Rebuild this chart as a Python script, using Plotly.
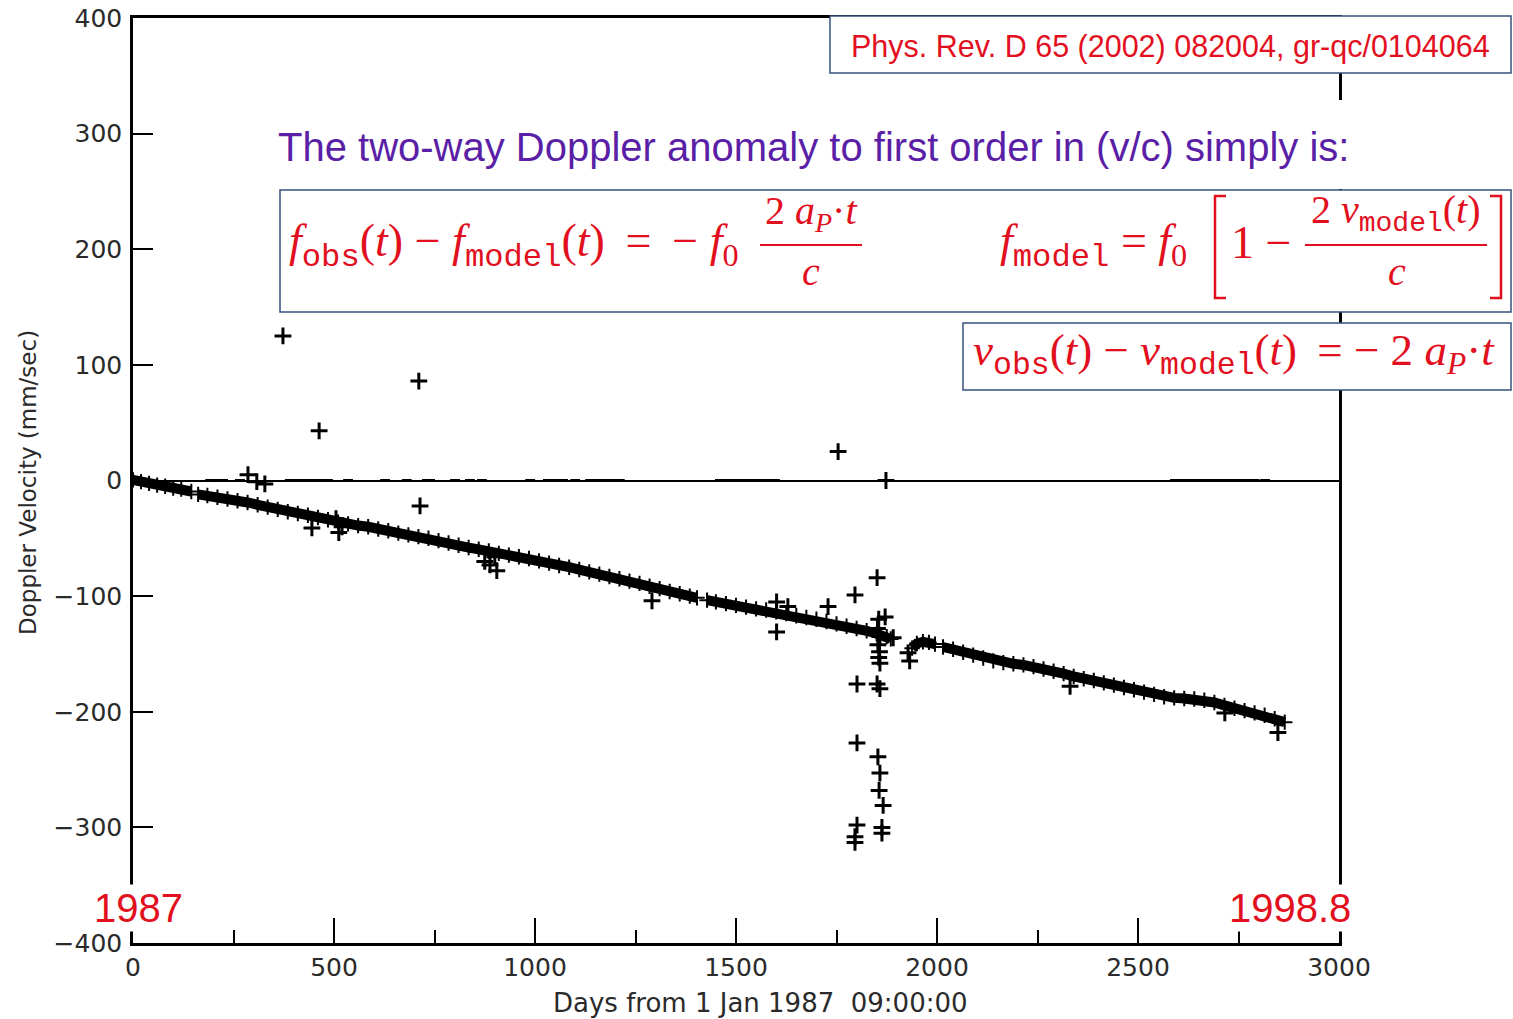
import plotly.graph_objects as go

# ---------------- data ----------------
band_days = [0, 20, 40, 60, 80, 100, 120, 145, None,
             162, 185, 210, 235, 260, 285, 310, 335, 360, 385, 410, 435, 460, 485, 510, 535, 560, 585,
             610, 635, 660, 685, 710, 735, 760, 785, 810, 835, 860, 885, 910, 935, 960, 985, 1010,
             1035, 1060, 1085, 1110, 1135, 1160, 1185, 1210, 1235, 1260, 1285, 1310, 1335, 1360,
             1385, 1403, None,
             1428, 1450, 1475, 1500, 1525, 1550, 1575, 1600, 1625, 1650, 1675, 1700, 1725, 1750,
             1775, 1800, 1825, 1850, 1875, 1885, None,
             1938, 1950, 1965, 1980, 1995, None,
             2015, 2040, 2065, 2090, 2115, 2140, 2165, 2190, 2215, 2240, 2265, 2290, 2315, 2340,
             2365, 2390, 2415, 2440, 2465, 2490, 2515, 2540, 2565, 2590, 2615, 2640, 2665, 2690,
             2715, 2740, 2765, 2790, 2815, 2840, 2865]
band_vel = [0.5, -1, -2.5, -4, -5, -6.5, -7.5, -9.5, None,
            -12, -13, -14.5, -16, -17.5, -19, -21, -23, -25, -27, -28.5, -30, -32, -34, -36, -37.5, -39, -40,
            -42, -43.5, -45.5, -47, -48.5, -50, -52, -54, -56, -58, -59.5, -61, -63, -64.5, -66, -67.5, -69.5,
            -71.5, -73.5, -75, -77, -79, -81, -83, -85, -87, -89, -91.5, -93.5, -96, -98,
            -100, -101.5, None,
            -103.5, -105, -106.5, -108, -109.5, -111, -112, -113.5, -115, -117, -118.5, -120, -122, -124,
            -126, -128, -130, -132.5, -135, -137, None,
            -145, -141, -139.5, -140, -141.5, None,
            -144, -146, -148.5, -151, -153.5, -156, -157.5, -158.5, -159.5, -161, -163, -165, -167, -169.5,
            -171.5, -173, -175, -177, -179, -181, -183, -185, -187, -188, -188.5, -189, -190, -192,
            -194.5, -197, -199, -201, -203, -206, -209]

outlier_days = [373, 463, 711, 714, 1754, 1873, 286, 308, 328,
                445, 505, 512, 520, 875, 888, 900, 905,
                1291, 1601, 1629, 1601, 1729, 1796, 1851, 1871, 1891,
                1855, 1852, 1858, 1853, 1857, 1855, 1858,
                1801, 1851, 1858, 1801, 1853, 1858, 1856, 1866, 1801, 1796, 1796, 1863, 1863,
                1928, 1932, 2331, 2716, 2848]
outlier_vel = [125, 43, 86, -22, 25, 0, 5, -1, -3,
               -41, -33, -45, -40, -70, -73, -66, -78,
               -104, -105, -109, -131, -109, -99, -84, -118, -136,
               -120, -128, -135, -142, -148, -153, -158,
               -176, -176, -180, -227, -239, -253, -268, -281, -298, -308, -313, -300, -305,
               -149, -156, -178, -201, -218]

zero_days = [192, 209, 224, 266, 390, 400, 410, 420, 432, 448, 470, 485, 535, 627, 681, 731, 739,
             801, 838, 868, 988, 1032, 1045, 1058, 1070, 1100, 1137, 1150, 1162, 1175, 1187, 1200,
             1211, 1460, 1475, 1490, 1505, 1520, 1540, 1560, 1580, 1597, 2592, 2610, 2630, 2650,
             2670, 2690, 2710, 2730, 2750, 2770, 2790, 2816]
zero_vel = [0] * len(zero_days)

x_ticks = [0, 500, 1000, 1500, 2000, 2500, 3000]
y_ticks = [-400, -300, -200, -100, 0, 100, 200, 300, 400]

# ---------------- geometry helpers (pixel -> paper) ----------------
W, H = 1513, 1019
L, R, T, B = 133, 174, 18, 76      # plot-area position in pixels
PW, PH = W - L - R, H - T - B


def px(x):
    return (x - L) / PW


def py(y):
    return (H - B - y) / PH


RED = "#e2101e"
PURPLE = "#5a1fa6"
BOXC = "#36507c"
SERIF = "Liberation Serif"
MONO = "Liberation Mono"
SANS = "Liberation Sans, Arial"
PLOTFONT = "DejaVu Sans"
INK = "#2a2a2a"

fig = go.Figure()

fig.add_trace(go.Scatter(
    x=band_days, y=band_vel, mode="lines+markers",
    line=dict(color="black", width=10),
    marker=dict(symbol="cross-thin", size=11, line=dict(color="black", width=2)),
    hoverinfo="skip"))

fig.add_trace(go.Scatter(
    x=outlier_days, y=outlier_vel, mode="markers",
    marker=dict(symbol="cross-thin", size=12, line=dict(color="black", width=3)),
    hoverinfo="skip"))

fig.add_trace(go.Scatter(
    x=zero_days, y=zero_vel, mode="markers",
    marker=dict(symbol="line-ew", size=7, line=dict(color="black", width=3)),
    hoverinfo="skip"))

tickfont = dict(family=PLOTFONT, size=25, color=INK)

fig.update_layout(
    width=W, height=H, autosize=False,
    margin=dict(l=L, r=R, t=T, b=B, pad=0),
    paper_bgcolor="white", plot_bgcolor="white",
    showlegend=False, hovermode=False,
    xaxis=dict(range=[0, 3000], tickvals=x_ticks, ticks="inside", ticklen=25, tickwidth=2,
               tickcolor="black", showline=True, linecolor="black", linewidth=2.5, mirror=True,
               showgrid=False, zeroline=False, tickfont=tickfont, automargin=False,
               minor=dict(dtick=250, ticks="inside", ticklen=13, tickwidth=2, tickcolor="black",
                          showgrid=False)),
    yaxis=dict(range=[-400, 400], tickvals=y_ticks, ticks="inside", ticklen=20, tickwidth=2,
               tickcolor="black", showline=True, linecolor="black", linewidth=2.5, mirror=True,
               showgrid=False, zeroline=True, zerolinecolor="black", zerolinewidth=1.5,
               tickfont=tickfont, automargin=False, ticklabelstandoff=3),
)

shapes = []
# white slide text area behind the purple heading
shapes.append(dict(type="rect", xref="paper", yref="paper", x0=px(270), x1=px(1365),
                   y0=py(189), y1=py(100), fillcolor="white", line=dict(width=0), layer="above"))
# boxes
for (x0, y0, x1, y1) in [(830, 16, 1511, 73), (280, 190, 1511, 312), (963, 323, 1511, 390)]:
    shapes.append(dict(type="rect", xref="paper", yref="paper", x0=px(x0), x1=px(x1),
                       y0=py(y1), y1=py(y0), fillcolor="white",
                       line=dict(color=BOXC, width=1.5), layer="above"))
# fraction bars
for (x0, x1) in [(760, 862), (1305, 1487)]:
    shapes.append(dict(type="line", xref="paper", yref="paper", x0=px(x0), x1=px(x1),
                       y0=py(245), y1=py(245), line=dict(color=RED, width=1.8), layer="above"))
# brackets
lb = f"M {px(1226)} {py(196)} L {px(1215)} {py(196)} L {px(1215)} {py(298)} L {px(1226)} {py(298)}"
rb = f"M {px(1490)} {py(196)} L {px(1501)} {py(196)} L {px(1501)} {py(298)} L {px(1490)} {py(298)}"
for p in (lb, rb):
    shapes.append(dict(type="path", xref="paper", yref="paper", path=p,
                       line=dict(color=RED, width=2.5), layer="above"))
fig.update_layout(shapes=shapes)


def sub(s):
    return f'<sub><span style="font-family:{MONO}">{s}</span></sub>'


def ann(text, x, y, size, color=RED, family=SERIF, xanchor="left", yanchor="middle", angle=0,
        bg=None, pad=1):
    fig.add_annotation(text=text, x=px(x), y=py(y), xref="paper", yref="paper",
                       xanchor=xanchor, yanchor=yanchor, showarrow=False, textangle=angle,
                       bgcolor=bg, borderpad=pad,
                       font=dict(family=family, size=size, color=color))


# axis titles
ann("Days from 1 Jan 1987  09:00:00", 760, 1003, 26, color=INK, family=PLOTFONT, xanchor="center")
ann("Doppler Velocity (mm/sec)", 28, 482, 23, color=INK, family=PLOTFONT, xanchor="center", angle=-90)

ann("The two-way Doppler anomaly to first order in (v/c) simply is:", 276, 147, 40,
    color=PURPLE, family=SANS)
ann("Phys. Rev. D 65 (2002) 082004, gr-qc/0104064", 849, 46, 30.5, family=SANS)
ann("1987", 92, 908, 40, family=SANS, bg="white", pad=1)
ann("1998.8", 1227, 908, 40, family=SANS, bg="white", pad=1)

TS = "\u2009"
# equation 1
ann(f"<i>f</i>{sub('obs')}(<i>t</i>) − <i>f</i>{sub('model')}(<i>t</i>){TS} ={TS} − <i>f</i><sub>0</sub>",
    287, 245, 46)
ann("2 <i>a</i><sub><i>P</i></sub>·<i>t</i>", 811, 213, 40, xanchor="center")
ann("<i>c</i>", 811, 271, 40, xanchor="center")
# equation 2
ann(f"<i>f</i>{sub('model')} = <i>f</i><sub>0</sub>", 998, 245, 46)
ann("1 −", 1229, 243, 46)
ann(f"2 <i>v</i>{sub('model')}(<i>t</i>)", 1396, 213, 40, xanchor="center")
ann("<i>c</i>", 1397, 271, 40, xanchor="center")
# equation 3
ann(f"<i>v</i>{sub('obs')}(<i>t</i>) − <i>v</i>{sub('model')}(<i>t</i>){TS} = − 2 <i>a</i><sub><i>P</i></sub>·<i>t</i>",
    971, 354, 45)

fig.write_html("out.html", config={"displayModeBar": False},
               post_script="document.body.style.margin='0px';")
